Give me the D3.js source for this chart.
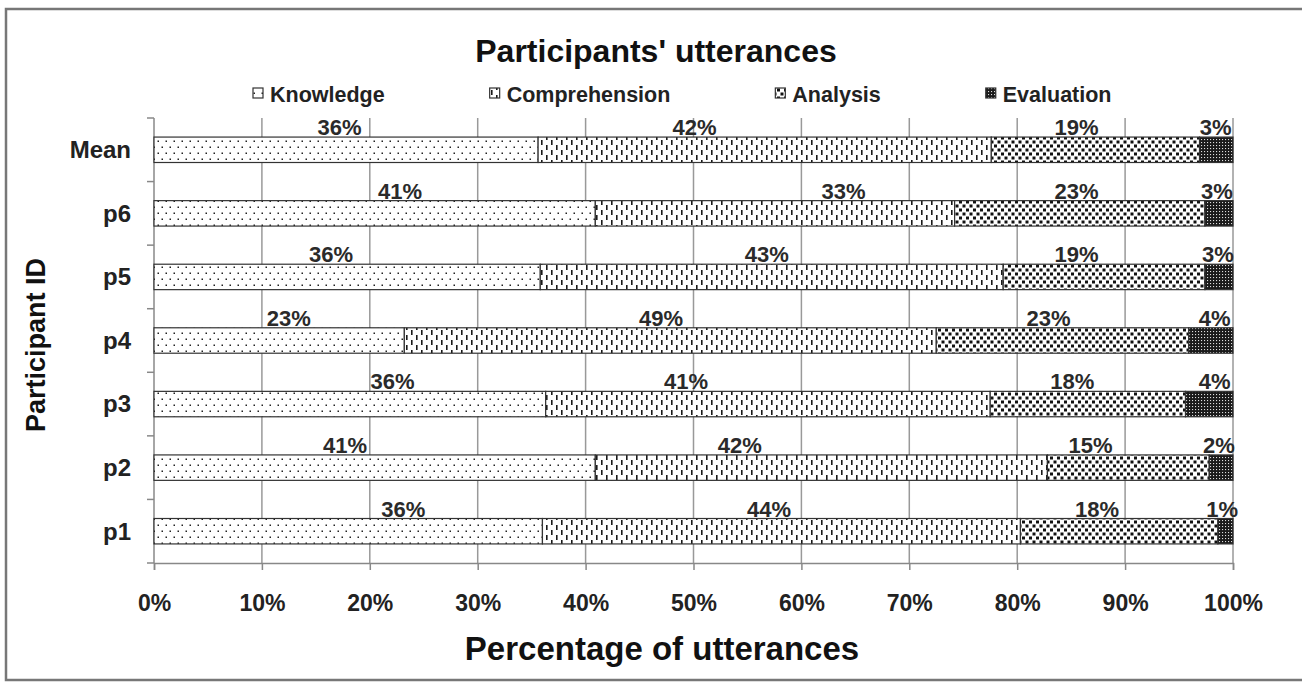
<!DOCTYPE html>
<html>
<head>
<meta charset="utf-8">
<script src="https://cdn.jsdelivr.net/npm/d3@7"></script>
<style>
  html, body { margin: 0; padding: 0; background: #fff; }
  svg text { font-family: "Liberation Sans", Arial, Helvetica, sans-serif; font-weight: bold; }
</style>
</head>
<body>
<div id="chart"></div>
<script>
// Participants (top to bottom as drawn)
const categories = ['Mean', 'p6', 'p5', 'p4', 'p3', 'p2', 'p1'];
const seriesNames = ['Knowledge', 'Comprehension', 'Analysis', 'Evaluation'];

// Share of utterances, percent
const knowledge     = [35.6, 40.9, 35.8, 23.2, 36.3, 40.9, 36.0];
const comprehension = [42.0, 33.3, 42.9, 49.3, 41.2, 41.9, 44.3];
const analysis      = [19.3, 23.2, 18.7, 23.4, 18.1, 15.0, 18.3];
const evaluation    = [3.1, 2.6, 2.6, 4.1, 4.4, 2.2, 1.4];

// Where each data label was dropped along the axis (percent units)
const knowledgeLabelAt     = [17.2, 22.8, 16.4, 12.5, 22.1, 17.7, 23.1];
const comprehensionLabelAt = [50.1, 63.9, 56.8, 47.0, 49.3, 54.3, 57.0];
const analysisLabelAt      = [85.5, 85.5, 85.5, 82.9, 85.1, 86.8, 87.4];
const evaluationLabelAt    = [98.4, 98.5, 98.6, 98.3, 98.3, 98.7, 99.0];

const xTicks = [0, 10, 20, 30, 40, 50, 60, 70, 80, 90, 100];

const values = [knowledge, comprehension, analysis, evaluation];
const labelAt = [knowledgeLabelAt, comprehensionLabelAt, analysisLabelAt, evaluationLabelAt];
const patternIds = ['pat-know', 'pat-comp', 'pat-anal', 'pat-eval'];

const width = 1302, height = 683;
const plot = {left: 154, right: 1233, top: 118, bottom: 563};

const svg = d3.select('#chart').append('svg')
    .attr('width', width)
    .attr('height', height);

// ---- fill patterns (black & white print style) ----
const defs = svg.append('defs');

const pk = defs.append('pattern').attr('id', 'pat-know')
    .attr('patternUnits', 'userSpaceOnUse').attr('width', 8).attr('height', 12);
pk.append('rect').attr('width', 8).attr('height', 12).attr('fill', '#fff');
pk.append('rect').attr('x', 1.5).attr('y', 2.5).attr('width', 1.5).attr('height', 1.5).attr('fill', '#222');
pk.append('rect').attr('x', 5.5).attr('y', 8.5).attr('width', 1.5).attr('height', 1.5).attr('fill', '#222');

const pc = defs.append('pattern').attr('id', 'pat-comp')
    .attr('patternUnits', 'userSpaceOnUse').attr('width', 10).attr('height', 10);
pc.append('rect').attr('width', 10).attr('height', 10).attr('fill', '#fff');
pc.append('rect').attr('x', 1).attr('y', 0).attr('width', 1.6).attr('height', 5).attr('fill', '#1a1a1a');
pc.append('rect').attr('x', 6).attr('y', 5).attr('width', 1.6).attr('height', 5).attr('fill', '#1a1a1a');

const pa = defs.append('pattern').attr('id', 'pat-anal')
    .attr('patternUnits', 'userSpaceOnUse').attr('width', 7).attr('height', 8);
pa.append('rect').attr('width', 7).attr('height', 8).attr('fill', '#fff');
pa.append('rect').attr('x', 0).attr('y', 0.5).attr('width', 3).attr('height', 3).attr('fill', '#111');
pa.append('rect').attr('x', 3.5).attr('y', 4.5).attr('width', 3).attr('height', 3).attr('fill', '#111');

const pe = defs.append('pattern').attr('id', 'pat-eval')
    .attr('patternUnits', 'userSpaceOnUse').attr('width', 3).attr('height', 3);
pe.append('rect').attr('width', 3).attr('height', 3).attr('fill', '#1a1a1a');
pe.append('rect').attr('x', 1).attr('y', 1).attr('width', 1.1).attr('height', 1.1).attr('fill', '#ddd');

// outer chart frame
svg.append('rect')
    .attr('x', 6).attr('y', 9)
    .attr('width', width).attr('height', 671)
    .attr('fill', 'none')
    .attr('stroke', '#777')
    .attr('stroke-width', 2.5);

// ---- scales ----
const x = d3.scaleLinear().domain([0, 100]).range([plot.left, plot.right]);
const y = d3.scaleBand().domain(categories)
    .range([plot.top, plot.bottom])
    .paddingInner(0.6)
    .paddingOuter(0.3);

// gridlines
svg.append('g').selectAll('line')
    .data(xTicks.slice(1))
    .enter().append('line')
    .attr('x1', d => x(d)).attr('x2', d => x(d))
    .attr('y1', plot.top).attr('y2', plot.bottom)
    .attr('stroke', '#999')
    .attr('stroke-width', 1.5);

// ---- x axis ----
const xAxis = d3.axisBottom(x)
    .tickValues(xTicks)
    .tickSize(7)
    .tickPadding(25)
    .tickFormat(d => d + '%');

svg.append('g')
    .attr('transform', `translate(0, ${plot.bottom})`)
    .call(xAxis)
    .call(g => g.select('.domain').attr('stroke', '#888').attr('stroke-width', 1.5))
    .call(g => g.selectAll('.tick line').attr('stroke', '#888').attr('stroke-width', 1.5))
    .call(g => g.selectAll('.tick text')
        .attr('fill', '#222')
        .style('font-family', '"Liberation Sans", Arial, sans-serif')
        .style('font-weight', 'bold')
        .style('font-size', '23px'));

// ---- y axis (Excel style: ticks between categories) ----
const yAxisG = svg.append('g');
yAxisG.append('line')
    .attr('x1', plot.left).attr('x2', plot.left)
    .attr('y1', plot.top).attr('y2', plot.bottom)
    .attr('stroke', '#888').attr('stroke-width', 1.5);

yAxisG.selectAll('.ytick')
    .data(d3.range(categories.length + 1))
    .enter().append('line')
    .attr('class', 'ytick')
    .attr('x1', plot.left - 7).attr('x2', plot.left)
    .attr('y1', i => plot.top + i * y.step())
    .attr('y2', i => plot.top + i * y.step())
    .attr('stroke', '#888').attr('stroke-width', 1.5);

yAxisG.selectAll('.ylabel')
    .data(categories)
    .enter().append('text')
    .attr('class', 'ylabel')
    .attr('x', plot.left - 23)
    .attr('y', d => y(d) + y.bandwidth() / 2)
    .attr('dy', '0.35em')
    .attr('text-anchor', 'end')
    .attr('fill', '#222')
    .style('font-size', '24px')
    .text(d => d);

// ---- stacked bars ----
const rows = categories.map((cat, i) => {
    let acc = 0;
    return seriesNames.map((name, s) => {
        const v = values[s][i];
        const seg = {cat: cat, s: s, x0: acc, x1: acc + v, v: v, at: labelAt[s][i]};
        acc += v;
        return seg;
    });
});
const segments = rows.flat();

svg.append('g').selectAll('rect')
    .data(segments)
    .enter().append('rect')
    .attr('x', d => x(d.x0))
    .attr('y', d => y(d.cat))
    .attr('width', d => x(d.x1) - x(d.x0))
    .attr('height', y.bandwidth())
    .attr('fill', d => `url(#${patternIds[d.s]})`)
    .attr('stroke', '#333')
    .attr('stroke-width', 1.2);

// data labels, sitting on top of each bar
svg.append('g').selectAll('text')
    .data(segments)
    .enter().append('text')
    .attr('x', d => x(d.at))
    .attr('y', d => y(d.cat) - 2)
    .attr('text-anchor', 'middle')
    .attr('fill', '#2a2a2a')
    .style('font-size', '22px')
    .text(d => Math.round(d.v) + '%');

// ---- title ----
svg.append('text')
    .attr('x', 656)
    .attr('y', 62)
    .attr('text-anchor', 'middle')
    .attr('fill', '#111')
    .style('font-size', '32px')
    .text("Participants' utterances");

// ---- legend ----
const legend = svg.append('g');
let lx = 253;
seriesNames.forEach((name, s) => {
    legend.append('rect')
        .attr('x', lx).attr('y', 88)
        .attr('width', 10).attr('height', 10)
        .attr('fill', `url(#${patternIds[s]})`)
        .attr('stroke', '#333')
        .attr('stroke-width', 1.2);
    const t = legend.append('text')
        .attr('x', lx + 17)
        .attr('y', 102)
        .attr('fill', '#222')
        .style('font-size', '21.5px')
        .text(name);
    lx += 17 + t.node().getComputedTextLength() + 105;
});

// ---- axis titles ----
svg.append('text')
    .attr('x', 662)
    .attr('y', 660)
    .attr('text-anchor', 'middle')
    .attr('fill', '#111')
    .style('font-size', '33px')
    .text('Percentage of utterances');

svg.append('text')
    .attr('transform', `translate(45, 345) rotate(-90)`)
    .attr('text-anchor', 'middle')
    .attr('fill', '#111')
    .style('font-size', '27px')
    .text('Participant ID');
</script>
</body>
</html>
